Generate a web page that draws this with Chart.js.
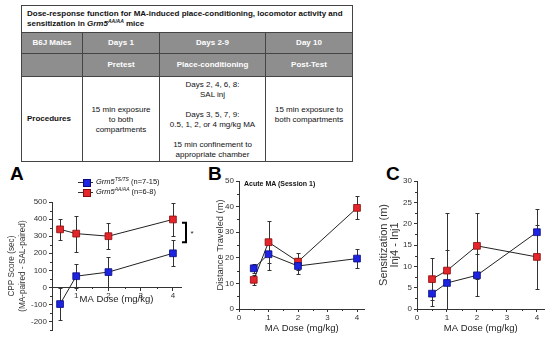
<!DOCTYPE html>
<html>
<head>
<meta charset="utf-8">
<script src="https://cdn.jsdelivr.net/npm/chart.js@4/dist/chart.umd.min.js"></script>
<style>
body { margin: 0; width: 550px; height: 337px; background: #fff; position: relative; overflow: hidden; font-family: Arial, "Liberation Sans", sans-serif; }
table.proto { position: absolute; left: 21px; top: 5px; width: 331px; height: 156px; border-collapse: collapse; font-size: 8px; color: #111; table-layout: fixed; }
table.proto td { border: 1px solid #444; padding: 0; line-height: 10px; }
td.ttl { text-align: left; padding-left: 5px !important; font-weight: bold; height: 26px; }
tr.hd td { background: #8e8e8e; color: #fff; font-weight: bold; text-align: center; }
td.body { text-align: center; vertical-align: top; }
sup { font-size: 5px; vertical-align: 3px; line-height: 0; }
.pane { position: absolute; top: 160px; height: 177px; }
.letter { position: absolute; font-weight: bold; font-size: 19px; line-height: 19px; color: #000; }
.lg { position: absolute; left: 78px; font-size: 7.5px; line-height: 8px; height: 8px; color: #111; white-space: nowrap; }
.lg .ln { position: absolute; left: 0; top: 4px; width: 15px; height: 1px; background: #333; }
.lg .sq { position: absolute; left: 5px; top: 1px; width: 5.5px; height: 5.5px; }
.lg .tx { position: absolute; left: 18px; top: 0; }
</style>
</head>
<body>

<table class="proto">
  <colgroup><col style="width:61px"><col style="width:77px"><col style="width:106px"><col style="width:87px"></colgroup>
  <tr><td class="ttl" colspan="4">Dose-response function for MA-induced place-conditioning, locomotor activity and<br>sensitization in <i>Grm5</i><sup><i>AA/AA</i></sup> mice</td></tr>
  <tr class="hd" style="height:21px"><td>B6J Males</td><td>Days 1</td><td>Days 2-9</td><td>Day 10</td></tr>
  <tr class="hd" style="height:23px"><td></td><td>Pretest</td><td>Place-conditioning</td><td>Post-Test</td></tr>
  <tr style="height:85px">
    <td style="font-weight:bold;padding-left:5px">Procedures</td>
    <td class="body" style="padding-top:28px">15 min exposure<br>to both<br>compartments</td>
    <td class="body" style="padding-top:3px">Days 2, 4, 6, 8:<br>SAL inj<div style="height:10px"></div>Days 3, 5, 7, 9:<br>0.5, 1, 2, or 4 mg/kg MA<div style="height:10px"></div>15 min confinement to<br>appropriate chamber</td>
    <td class="body" style="padding-top:28px">15 min exposure to<br>both compartments</td>
  </tr>
</table>

<div class="letter" style="left:10px;top:164px">A</div>
<div class="letter" style="left:208px;top:164px">B</div>
<div class="letter" style="left:386px;top:164px">C</div>

<div class="pane" style="left:0;width:200px"><canvas id="chartA" width="200" height="177"></canvas></div>
<div class="pane" style="left:200px;width:170px"><canvas id="chartB" width="170" height="177"></canvas></div>
<div class="pane" style="left:370px;width:180px"><canvas id="chartC" width="180" height="177"></canvas></div>

<div class="lg" style="top:178px"><span class="ln"></span><span class="sq" style="background:#1c24e0;border:0.5px solid #0a0a80"></span><span class="tx"><i>Grm5</i><sup><i>TS/TS</i></sup> (n=7-15)</span></div>
<div class="lg" style="top:188px"><span class="ln"></span><span class="sq" style="background:#e3262b;border:0.5px solid #8a0a0a"></span><span class="tx"><i>Grm5</i><sup><i>AA/AA</i></sup> (n=6-8)</span></div>

<script>
// doses on the x axis, shared by all three panels
const doses = [0.5, 1, 2, 4];

// A: CPP score
const cppTS = [-97, 66, 90, 200];
const cppTSErr = [96, 72, 87, 75];
const cppAA = [340, 315, 300, 398];
const cppAAErr = [61, 106, 75, 97];
const sigBracketA = [265, 378];

// B: acute MA distance
const distTS = [15.9, 21.4, 16.8, 19.7];
const distTSErr = [1.7, 6.1, 3.2, 3.8];
const distAA = [11.4, 26.1, 18.5, 39.5];
const distAAErr = [1.9, 8.2, 3.3, 4.5];

// C: sensitization
const sensTS = [3.6, 6.1, 7.9, 18.0];
const sensTSErr = [3.0, 7.7, 4.9, 5.4];
const sensAA = [7.0, 9.0, 14.8, 12.2];
const sensAAErr = [5.0, 13.6, 7.8, 7.4];

const xTicksA = [1, 2, 3, 4];
const xTicksBC = [0, 1, 2, 3, 4];
const yTicksA = [-200, -100, 0, 100, 200, 300, 400, 500];
const yTicksB = [0, 10, 20, 30, 40, 50];
const yTicksC = [0, 5, 10, 15, 20, 25, 30];

const FONT = 'Arial, "Liberation Sans", sans-serif';
const AXIS = '#333';
const BLUE = '#1c24e0', BLUE_EDGE = '#0a0a80';
const RED = '#e3262b', RED_EDGE = '#8a0a0a';

const errorBars = {
  id: 'errorBars',
  beforeDatasetsDraw(chart) {
    const {ctx, chartArea, scales: {x, y}} = chart;
    ctx.save();
    ctx.beginPath();
    ctx.rect(chartArea.left, chartArea.top - 2, chartArea.width, chartArea.height + 2);
    ctx.clip();
    ctx.strokeStyle = AXIS;
    ctx.lineWidth = 1;
    chart.data.datasets.forEach(ds => {
      ds.data.forEach((p, i) => {
        const e = ds.errors[i];
        const px = Math.round(x.getPixelForValue(p.x)) + 0.5;
        const yt = Math.round(y.getPixelForValue(p.y + e)) + 0.5;
        const yb = Math.round(y.getPixelForValue(p.y - e)) + 0.5;
        ctx.beginPath();
        ctx.moveTo(px, yt); ctx.lineTo(px, yb);
        ctx.moveTo(px - 2, yt); ctx.lineTo(px + 2, yt);
        ctx.moveTo(px - 2, yb); ctx.lineTo(px + 2, yb);
        ctx.stroke();
      });
    });
    ctx.restore();
  }
};

const minorTicks = {
  id: 'minorTicks',
  afterDraw(chart) {
    const {ctx, chartArea, scales: {x, y}} = chart;
    const pos = x.options.position;
    const axY = typeof pos === 'object' ? y.getPixelForValue(pos.y) : chartArea.bottom;
    ctx.save();
    ctx.strokeStyle = AXIS;
    ctx.lineWidth = 1;
    ctx.beginPath();
    const xs = x.ticks.map(t => t.value);
    const hx = (xs[1] - xs[0]) / 2;
    for (let v = Math.ceil(x.min / hx) * hx; v <= x.max + 1e-9; v += hx) {
      if (xs.includes(v)) continue;
      const px = Math.round(x.getPixelForValue(v)) + 0.5;
      ctx.moveTo(px, Math.round(axY)); ctx.lineTo(px, Math.round(axY) + 2);
    }
    const ys = y.ticks.map(t => t.value);
    const hy = (ys[1] - ys[0]) / 2;
    for (let v = Math.ceil(y.min / hy) * hy; v <= y.max + 1e-9; v += hy) {
      if (ys.includes(v)) continue;
      const py = Math.round(y.getPixelForValue(v)) + 0.5;
      ctx.moveTo(Math.round(chartArea.left), py); ctx.lineTo(Math.round(chartArea.left) - 2, py);
    }
    ctx.stroke();
    ctx.restore();
  }
};

const sigMark = {
  id: 'sigMark',
  afterDraw(chart) {
    if (!chart.options.plugins.sigMark || !chart.options.plugins.sigMark.range) return;
    const {ctx, chartArea, scales: {y}} = chart;
    const [lo, hi] = chart.options.plugins.sigMark.range;
    const y1 = y.getPixelForValue(hi), y2 = y.getPixelForValue(lo);
    const x0 = chartArea.right + 1, x1 = chartArea.right + 5;
    ctx.save();
    ctx.strokeStyle = '#000';
    ctx.lineWidth = 2;
    ctx.beginPath();
    ctx.moveTo(x0, y1); ctx.lineTo(x1, y1); ctx.lineTo(x1, y2); ctx.lineTo(x0, y2);
    ctx.stroke();
    ctx.fillStyle = '#222';
    ctx.font = '8px ' + FONT;
    ctx.textAlign = 'center';
    ctx.textBaseline = 'middle';
    ctx.fillText('*', x1 + 6, (y1 + y2) / 2 + 1);
    ctx.restore();
  }
};

function series(vals, errs, fill, edge) {
  return {
    data: doses.map((d, i) => ({x: d, y: vals[i]})),
    errors: errs,
    showLine: true,
    borderColor: '#222',
    borderWidth: 1,
    pointStyle: 'rect',
    pointRadius: 4.8,
    pointHoverRadius: 4.8,
    pointBackgroundColor: fill,
    pointBorderColor: edge,
    pointBorderWidth: 0.8
  };
}

// p: canvas box, a: desired plot area (page coords)
function makeChart(id, p, a, o) {
  const xPos = o.xAtZero ? {y: 0} : 'bottom';
  new Chart(document.getElementById(id), {
    type: 'scatter',
    data: {datasets: o.datasets},
    options: {
      responsive: false,
      animation: false,
      events: [],
      layout: {padding: {left: 0, top: a.t - p.y, right: p.x + p.w - a.r, bottom: 0}},
      plugins: {legend: {display: false}, tooltip: {enabled: false}, sigMark: {range: o.sig}},
      scales: {
        x: {
          type: 'linear',
          position: xPos,
          min: o.xMin, max: o.xMax,
          afterBuildTicks: s => { s.ticks = o.xTicks.map(v => ({value: v})); },
          afterFit: s => { s.height = p.y + p.h - a.b; },
          ticks: {font: {size: 8, family: FONT}, color: AXIS, padding: 1},
          grid: {display: true, drawOnChartArea: false, tickLength: 3, color: AXIS},
          border: {color: AXIS, width: 1},
          title: {display: true, text: 'MA Dose (mg/kg)', font: {size: 9.5, family: FONT}, color: '#222', padding: {top: 0, bottom: o.xTitlePad}}
        },
        y: {
          min: o.yMin, max: o.yMax,
          afterBuildTicks: s => { s.ticks = o.yTicks.map(v => ({value: v})); },
          afterFit: s => { s.width = a.l - p.x; },
          ticks: {font: {size: 8, family: FONT}, color: AXIS, padding: 2},
          grid: {display: true, drawOnChartArea: false, tickLength: 3, color: AXIS},
          border: {color: AXIS, width: 1},
          title: {display: true, text: o.yTitle, font: {size: o.yTitleSize, family: FONT, lineHeight: o.yTitleLH}, color: '#333', padding: {top: o.yTitlePad, bottom: 0}}
        }
      }
    },
    plugins: [errorBars, minorTicks, sigMark]
  });
}

makeChart('chartA', {x: 0, y: 160, w: 200, h: 177}, {l: 52, t: 202, r: 181, b: 328}, {
  datasets: [series(cppTS, cppTSErr, BLUE, BLUE_EDGE), series(cppAA, cppAAErr, RED, RED_EDGE)],
  xAtZero: true, xMin: 0.25, xMax: 4.25, xTicks: xTicksA,
  yMin: -250, yMax: 500, yTicks: yTicksA,
  xTitlePad: -9,
  yTitle: ['CPP Score (sec)', '(MA-paired - SAL-paired)'], yTitleSize: 8.2, yTitleLH: 1.35, yTitlePad: 6.5,
  sig: sigBracketA
});

makeChart('chartB', {x: 200, y: 160, w: 170, h: 177}, {l: 239, t: 181, r: 367, b: 309}, {
  datasets: [series(distTS, distTSErr, BLUE, BLUE_EDGE), series(distAA, distAAErr, RED, RED_EDGE)],
  xMin: 0, xMax: 4.25, xTicks: xTicksBC,
  yMin: 0, yMax: 50, yTicks: yTicksB,
  xTitlePad: 3,
  yTitle: 'Distance Traveled (m)', yTitleSize: 9.3, yTitleLH: 1.2, yTitlePad: 14.5
});

makeChart('chartC', {x: 370, y: 160, w: 180, h: 177}, {l: 417, t: 181, r: 545, b: 309}, {
  datasets: [series(sensTS, sensTSErr, BLUE, BLUE_EDGE), series(sensAA, sensAAErr, RED, RED_EDGE)],
  xMin: 0, xMax: 4.25, xTicks: xTicksBC,
  yMin: 0, yMax: 30, yTicks: yTicksC,
  xTitlePad: 3,
  yTitle: ['Sensitization (m)', 'Inj4 - Inj1'], yTitleSize: 11, yTitleLH: 0.92, yTitlePad: 9.3
});
</script>

<div style="position:absolute;left:244px;top:180px;font-size:7px;font-weight:bold;color:#111;white-space:nowrap">Acute MA (Session 1)</div>
</body>
</html>
